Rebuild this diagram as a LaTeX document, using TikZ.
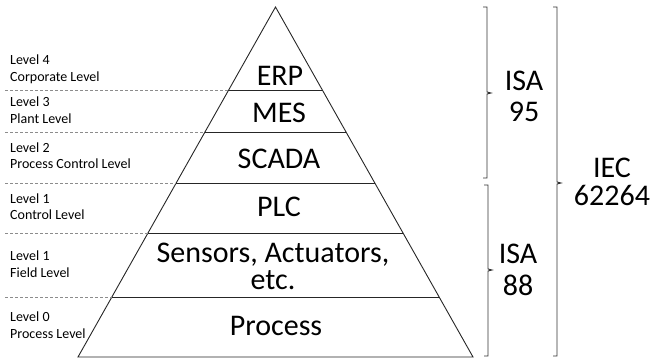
\documentclass[tikz,border=0pt]{standalone}
\usepackage{fontspec}
\setmainfont{Carlito}
\usetikzlibrary{calc}
\tikzset{
  edge/.style={draw=black!85, line width=0.9bp},
  guide/.style={draw=black!45, line width=0.8bp, dash pattern=on 3bp off 2bp},
  brace/.style={draw=black!80, line width=0.9bp},
  small/.style={font=\fontsize{14bp}{17bp}\selectfont, anchor=base west, inner sep=0pt},
  big/.style={font=\fontsize{30bp}{30bp}\selectfont, anchor=base, inner sep=0pt, align=center},
}
\begin{document}
\begin{tikzpicture}[x=1bp, y=-1bp]
  \useasboundingbox (0,0) rectangle (654,360);

  % pyramid outline
  \coordinate (apex) at (275.5,7);
  \coordinate (bl) at (78,357);
  \coordinate (br) at (473,357);
  \draw[edge] (bl) -- (apex) -- (br) -- cycle;

  % layer dividers: points on the two sides
  \foreach \n/\f in {a/0.2371, b/0.3571, c/0.5029, d/0.6457, e/0.8286} {
    \coordinate (L\n) at ($(apex)!\f!(bl)$);
    \coordinate (R\n) at ($(apex)!\f!(br)$);
    \coordinate (G\n) at (5,0 |- L\n);
    \draw[edge] (L\n) -- (R\n);
    \draw[guide] (G\n) -- (L\n);
  }

  % level captions
  \node[small] (l4a) at (10,64)  {Level 4};
  \node[small] (l4b) at (10,81)  {Corporate Level};
  \node[small] (l3a) at (10,106) {Level 3};
  \node[small] (l3b) at (10,123) {Plant Level};
  \node[small] (l2a) at (10,152) {Level 2};
  \node[small] (l2b) at (10,168) {Process Control Level};
  \node[small] (l1a) at (10,203) {Level 1};
  \node[small] (l1b) at (10,219) {Control Level};
  \node[small] (lfa) at (10,260) {Level 1};
  \node[small] (lfb) at (10,277) {Field Level};
  \node[small] (l0a) at (10,321) {Level 0};
  \node[small] (l0b) at (10,338) {Process Level};

  % pyramid layers (base anchor = baseline of the last line)
  \node[big] (erp) at (280,85)  {ERP};
  \node[big] (mes) at (279,122) {MES};
  \node[big] (scada) at (279,168) {SCADA};
  \node[big] (plc) at (279,216) {PLC};
  \node[big, font=\fontsize{30bp}{27bp}\selectfont] (sens) at (273,289) {Sensors, Actuators,\\etc.};
  \node[big] (proc) at (276,335) {Process};

  % standards braces
  \draw[brace] (483,7) -- (487,7) -- (487,92) -- (491,93) -- (487,94) -- (487,178) -- (483,178);
  \draw[brace] (484,185) -- (488,185) -- (488,269) -- (492,270) -- (488,271) -- (488,356) -- (484,356);
  \draw[brace] (553,7) -- (557,7) -- (557,182) -- (561,183) -- (557,184) -- (557,356) -- (553,356);

  \node[big, font=\fontsize{30bp}{31bp}\selectfont] (isa95) at (524,121) {ISA\\95};
  \node[big, font=\fontsize{30bp}{32bp}\selectfont] (isa88) at (518,295) {ISA\\88};
  \node[big, font=\fontsize{30bp}{28bp}\selectfont] (iec)   at (612,205) {IEC\\62264};
\end{tikzpicture}
\end{document}
